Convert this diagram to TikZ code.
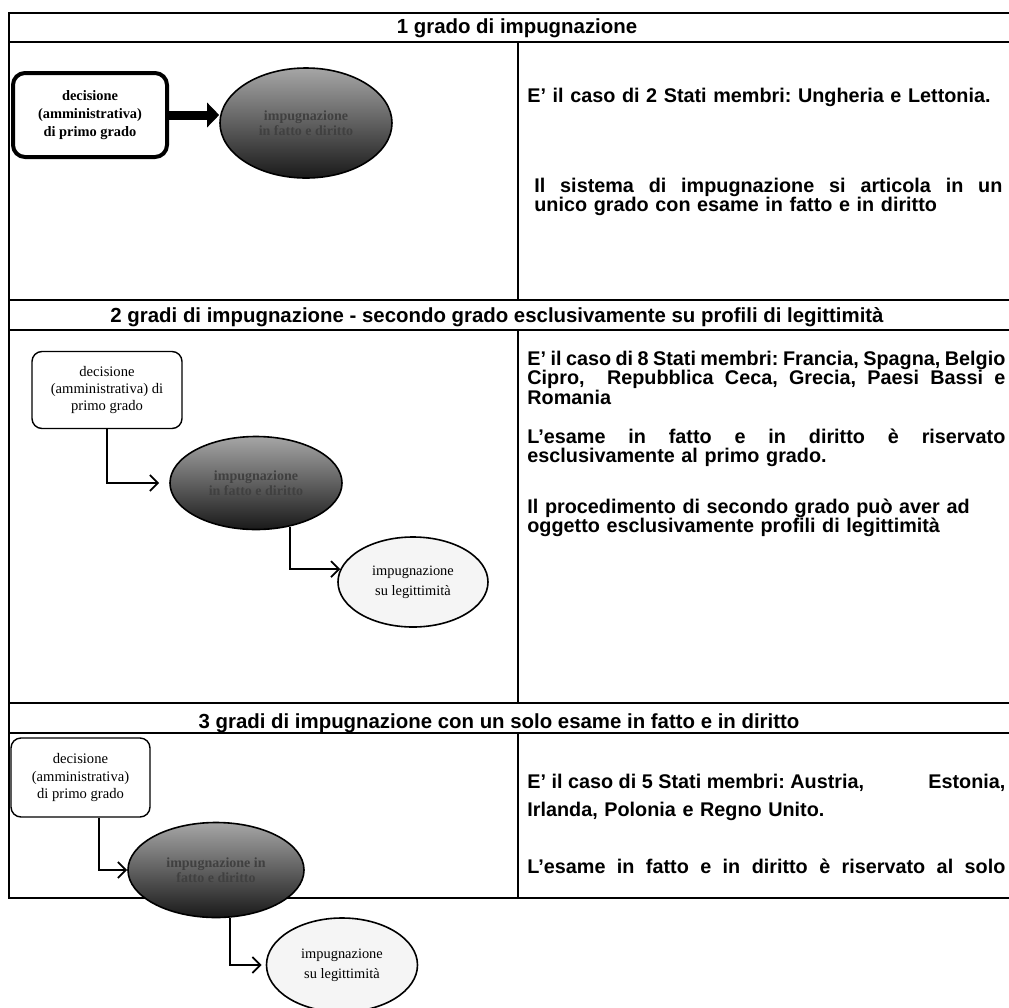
\documentclass[tikz,border=0pt]{standalone}
\usepackage{fontspec}
\usetikzlibrary{shapes.geometric,arrows.meta}
\newfontfamily\arialbf{Liberation Sans}
\newfontfamily\timesrm{Liberation Serif}
\newcommand{\fullline}[2]{\makebox[#1][s]{\spaceskip=0pt\xspaceskip=0pt\relax #2}}
\begin{document}
\begin{tikzpicture}[x=0.5pt,y=-0.5pt,
  tbl/.style={line width=0.9pt},
  title/.style={anchor=base,inner sep=0pt,font=\arialbf\bfseries\fontsize{10.2}{9.8}\selectfont},
  para/.style={anchor=base west,align=left,text width=250pt,inner sep=0pt,font=\arialbf\bfseries\frenchspacing\fontsize{9.9}{9.8}\selectfont},
  decision/.style={draw,line width=0.7pt,rounded corners=5pt,align=center,inner sep=0pt,font=\timesrm\fontsize{7.3}{8.7}\selectfont},
  hearing/.style={ellipse,draw,line width=0.8pt,inner sep=0pt,align=center,text=black!75,top color=black!35,bottom color=black!90,font=\timesrm\bfseries\fontsize{7}{7.5}\selectfont},
  review/.style={ellipse,draw,line width=0.8pt,inner sep=0pt,align=center,fill=black!4,font=\timesrm\fontsize{7.2}{9.8}\selectfont},
  elbow/.style={line width=0.9pt,-{Straight Barb[length=4pt,width=8pt]}}]
\useasboundingbox (0,0) rectangle (1009,1008);
\clip (0,0) rectangle (1009,1008);
\foreach \ya/\yb/\yc in {13/42/300,300/330/703,703/733/898}{
  \draw[tbl] (9,\ya) rectangle (1020,\yc);
  \draw[tbl] (9,\yb) -- (1020,\yb);
  \draw[tbl] (518,\yb) -- (518,\yc);
}
\node (h1) at (517,33) [title] {1 grado di impugnazione};
\node (h2) at (497,322) [title] {2 gradi di impugnazione - secondo grado esclusivamente su profili di legittimità};
\node (h3) at (499,728) [title] {3 gradi di impugnazione con un solo esame in fatto e in diritto};

\node (d1) at (90,115) [decision,line width=2pt,rounded corners=6pt,minimum width=77pt,minimum height=42pt,font=\timesrm\bfseries\fontsize{7.2}{9.2}\selectfont] {decisione\\(amministrativa)\\di primo grado};
\node (f1) at (306,123) [hearing,minimum width=86pt,minimum height=55pt] {impugnazione\\in fatto e diritto};
\draw[line width=4.5pt,-{Triangle[length=6pt,width=12pt]}] (d1.east) -- (d1.east -| f1.west);
\node (p1a) at (527,102) [para] {E’ il caso di 2 Stati membri: Ungheria e Lettonia.};
\node (p1b) at (534,192) [para] {\fullline{234pt}{Il sistema di impugnazione si articola in un}\\unico grado con esame in fatto e in diritto};

\node (d2) at (107,390) [decision,minimum width=75pt,minimum height=38.5pt] {decisione\\(amministrativa) di\\primo grado};
\node (f2) at (256,483) [hearing,minimum width=86pt,minimum height=46.5pt] {impugnazione\\in fatto e diritto};
\node (l2) at (413,582) [review,minimum width=75pt,minimum height=45pt] {impugnazione\\su legittimità};
\draw[elbow,shorten >=5pt] (d2.south) |- (f2.west);
\draw[elbow] (f2.-52) |- (l2.170);
\node (p2a) at (527,365) [para] {\fullline{239pt}{E’ il caso di 8 Stati membri: Francia, Spagna, Belgio}\\\fullline{239pt}{Cipro, \ Repubblica Ceca, Grecia, Paesi Bassi e}\\Romania};
\node (p2b) at (527,443) [para] {\fullline{239pt}{L’esame in fatto e in diritto è riservato}\\esclusivamente al primo grado.};
\node (p2c) at (527,513) [para] {Il procedimento di secondo grado può aver ad\\oggetto esclusivamente profili di legittimità};

\node (d3) at (80.5,777.5) [decision,minimum width=69.5pt,minimum height=39.5pt] {decisione\\(amministrativa)\\di primo grado};
\node (f3) at (216,870) [hearing,minimum width=88pt,minimum height=47.5pt] {impugnazione in\\fatto e diritto};
\node (l3) at (342,965) [review,minimum width=75.5pt,minimum height=47pt] {impugnazione\\su legittimità};
\draw[elbow] (d3.-65) |- (f3.west);
\draw[elbow,shorten >=2pt] (f3.-74) |- (l3.west);
\node (p3a) at (527,788) [para] {\fullline{239pt}{E’ il caso di 5 Stati membri: Austria,\hfill Estonia,}\\[4.5pt]Irlanda, Polonia e Regno Unito.};
\node (p3b) at (527,873) [para] {\fullline{239pt}{L’esame in fatto e in diritto è riservato al solo}};
\end{tikzpicture}
\end{document}
